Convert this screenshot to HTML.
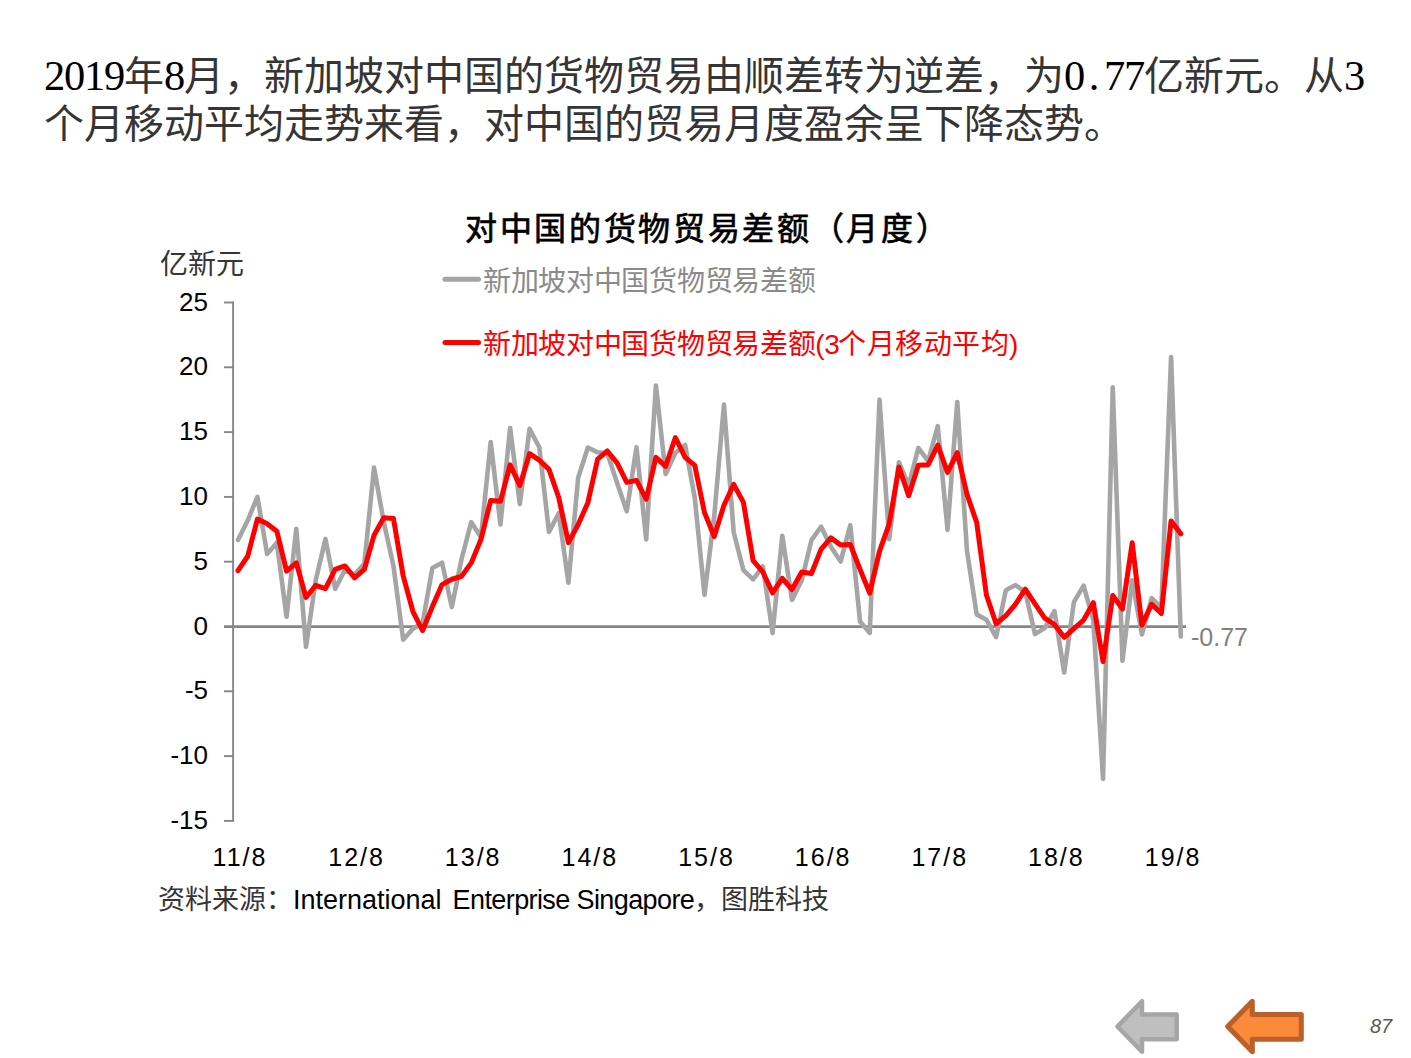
<!DOCTYPE html>
<html lang="zh-CN"><head><meta charset="utf-8"><title>87</title>
<style>
*{margin:0;padding:0}
html,body{width:1411px;height:1058px;background:#fff;overflow:hidden}
body{position:relative;font-family:"Liberation Sans",sans-serif;color:#000}
.t{position:absolute;white-space:nowrap;line-height:1}
i{font-style:normal;font-family:"Liberation Sans",sans-serif;display:inline-block;width:1em;text-align:center}
b{font-weight:inherit;display:inline-block;width:20px;font-size:42.5px;text-align:center}
#h1,#h2{left:44px;font-family:"Liberation Serif",serif;font-size:40px}
#h1{top:54.5px}
#h2{top:104px}
#ct{left:463.5px;top:212.5px;font-size:32px;-webkit-text-stroke:0.7px #000}
#ct i{width:34.7px}
#yl{left:160px;top:251px;font-size:28px}
#yl i{width:28px}
.lg{left:483px;font-size:28px}
.lg i{width:27.7px}
#lg1{top:267.5px;color:#8a8a8a}
#lg2{top:330.5px;color:#ff0000}
.yt{right:1203px;font-size:26px;text-align:right}
.xt{font-size:25px;width:100px;text-align:center;letter-spacing:2px}
#dl{left:1191px;top:625px;font-size:25px;color:#808080}
#src{left:158px;top:887px;font-size:27px}
#src i{width:27px}
#pn{left:1370px;top:1016px;font-size:20px;font-style:italic;color:#595959}
#h1 i,#h2 i,#yl i,#src i{color:#353535}
.tofu i{transform:scale(1.5,1.2);-webkit-text-stroke:0.005em currentColor}
.tofu #h1 i,.tofu #h2 i,.tofu #yl i,.tofu #src i{color:#000}
.tofu #ct i{-webkit-text-stroke:0.035em #000}
</style></head><body>
<svg width="1411" height="1058" style="position:absolute;left:0;top:0">
<g stroke="#868686" stroke-width="1.9" fill="none">
<line x1="233.1" y1="301.55" x2="233.1" y2="821.85"/>
<line x1="224" y1="302.50" x2="233.1" y2="302.50"/><line x1="224" y1="367.30" x2="233.1" y2="367.30"/><line x1="224" y1="432.10" x2="233.1" y2="432.10"/><line x1="224" y1="496.90" x2="233.1" y2="496.90"/><line x1="224" y1="561.70" x2="233.1" y2="561.70"/><line x1="224" y1="691.30" x2="233.1" y2="691.30"/><line x1="224" y1="756.10" x2="233.1" y2="756.10"/><line x1="224" y1="820.90" x2="233.1" y2="820.90"/>
</g>
<line x1="224" y1="626.5" x2="1186" y2="626.5" stroke="#868686" stroke-width="2.75"/>
<line x1="445" y1="279.3" x2="478.5" y2="279.3" stroke="#a5a5a5" stroke-width="5" stroke-linecap="round"/>
<line x1="445" y1="342.5" x2="478.5" y2="342.5" stroke="#ff0000" stroke-width="5" stroke-linecap="round"/>
<polyline points="237.96,539.91 247.68,520.53 257.40,496.78 267.12,553.90 276.84,542.79 286.56,616.64 296.28,528.91 306.00,646.78 315.72,580.23 325.44,538.93 335.16,588.83 344.88,570.07 354.60,574.50 364.32,563.76 374.04,467.58 383.76,522.03 393.48,566.12 403.20,639.73 412.92,628.76 422.64,623.09 432.36,568.00 442.08,562.65 451.80,607.12 461.52,559.29 471.24,522.16 480.96,537.31 490.68,441.96 500.40,524.53 510.12,428.02 519.84,504.08 529.56,428.90 539.28,447.28 549.00,531.89 558.72,513.22 568.44,582.73 578.16,477.78 587.88,447.50 597.60,452.33 607.32,453.25 617.04,482.79 626.76,511.23 636.48,447.20 646.20,539.46 655.92,385.51 665.64,473.95 675.36,453.03 685.08,444.93 694.80,498.22 704.52,594.83 714.24,516.25 723.96,404.61 733.68,532.29 743.40,570.06 753.12,579.35 762.84,566.47 772.56,632.93 782.28,535.77 792.00,599.93 801.72,580.35 811.44,540.20 821.16,526.67 830.88,546.78 840.60,561.61 850.32,525.13 860.04,621.55 869.76,632.89 879.48,399.66 889.20,539.32 898.92,462.21 908.64,485.61 918.36,447.90 928.08,461.05 937.80,426.15 947.52,529.88 957.24,401.98 966.96,550.88 976.68,614.38 986.40,619.72 996.12,637.06 1005.84,590.17 1015.56,585.07 1025.28,592.09 1035.00,634.11 1044.72,628.15 1054.44,611.21 1064.16,672.48 1073.88,602.11 1083.60,585.65 1093.32,620.45 1103.04,778.87 1112.76,387.32 1122.48,660.82 1132.20,580.28 1141.92,634.37 1151.64,598.07 1161.36,607.97 1171.08,356.94 1180.80,636.47" fill="none" stroke="#a5a5a5" stroke-width="4.6" stroke-linejoin="round" stroke-linecap="round"/>
<polyline points="237.96,570.64 247.68,556.26 257.40,519.07 267.12,523.74 276.84,531.15 286.56,571.11 296.28,562.78 306.00,597.44 315.72,585.31 325.44,588.64 335.16,569.33 344.88,565.95 354.60,577.81 364.32,569.45 374.04,535.29 383.76,517.79 393.48,518.58 403.20,575.96 412.92,611.53 422.64,630.52 432.36,606.62 442.08,584.57 451.80,579.25 461.52,576.34 471.24,562.85 480.96,539.58 490.68,500.48 500.40,501.27 510.12,464.84 519.84,485.55 529.56,453.67 539.28,460.09 549.00,469.36 558.72,497.47 568.44,542.62 578.16,524.58 587.88,502.67 597.60,459.20 607.32,451.02 617.04,462.79 626.76,482.42 636.48,480.40 646.20,499.30 655.92,457.38 665.64,466.30 675.36,437.50 685.08,457.31 694.80,465.39 704.52,512.66 714.24,536.43 723.96,505.22 733.68,484.38 743.40,502.32 753.12,560.57 762.84,571.96 772.56,592.92 782.28,578.39 792.00,589.54 801.72,572.02 811.44,573.49 821.16,549.08 830.88,537.88 840.60,545.02 850.32,544.50 860.04,569.42 869.76,593.19 879.48,551.37 889.20,523.95 898.92,467.07 908.64,495.71 918.36,465.24 928.08,464.85 937.80,445.03 947.52,472.37 957.24,452.67 966.96,494.26 976.68,522.42 986.40,594.99 996.12,623.73 1005.84,615.65 1015.56,604.11 1025.28,589.11 1035.00,603.76 1044.72,618.11 1054.44,624.49 1064.16,637.28 1073.88,628.60 1083.60,620.08 1093.32,602.73 1103.04,661.65 1112.76,595.54 1122.48,609.00 1132.20,542.80 1141.92,625.17 1151.64,604.23 1161.36,613.46 1171.08,520.99 1180.80,533.80" fill="none" stroke="#ff0000" stroke-width="5.0" stroke-linejoin="round" stroke-linecap="round"/>
<path d="M1117.5,1026.5 L1142,1001.25 L1142,1014.45 L1176.7,1014.45 L1176.7,1039.15 L1142,1039.15 L1142,1051.75 Z" fill="#bfbfbf" stroke="#a6a6a6" stroke-width="4.5" stroke-linejoin="round"/>
<path d="M1227.7,1026.5 L1252.3,1001.3 L1252.3,1014.5 L1301.3,1014.5 L1301.3,1039.2 L1252.3,1039.2 L1252.3,1051.7 Z" fill="#fb8a3a" stroke="#bb6028" stroke-width="5" stroke-linejoin="round"/>
</svg>
<div class="t" id="h1"><b>2</b><b>0</b><b>1</b><b>9</b><i>年</i><b>8</b><i>月</i><i>，</i><i>新</i><i>加</i><i>坡</i><i>对</i><i>中</i><i>国</i><i>的</i><i>货</i><i>物</i><i>贸</i><i>易</i><i>由</i><i>顺</i><i>差</i><i>转</i><i>为</i><i>逆</i><i>差</i><i>，</i><i>为</i><b>0</b><b>.</b><b>7</b><b>7</b><i>亿</i><i>新</i><i>元</i><i>。</i><i>从</i><b>3</b></div>
<div class="t" id="h2"><i>个</i><i>月</i><i>移</i><i>动</i><i>平</i><i>均</i><i>走</i><i>势</i><i>来</i><i>看</i><i>，</i><i>对</i><i>中</i><i>国</i><i>的</i><i>贸</i><i>易</i><i>月</i><i>度</i><i>盈</i><i>余</i><i>呈</i><i>下</i><i>降</i><i>态</i><i>势</i><i>。</i></div>
<div class="t" id="ct"><i>对</i><i>中</i><i>国</i><i>的</i><i>货</i><i>物</i><i>贸</i><i>易</i><i>差</i><i>额</i><i>（</i><i>月</i><i>度</i><i>）</i></div>
<div class="t" id="yl"><i>亿</i><i>新</i><i>元</i></div>
<div class="t lg" id="lg1"><i>新</i><i>加</i><i>坡</i><i>对</i><i>中</i><i>国</i><i>货</i><i>物</i><i>贸</i><i>易</i><i>差</i><i>额</i></div>
<div class="t lg" id="lg2"><i>新</i><i>加</i><i>坡</i><i>对</i><i>中</i><i>国</i><i>货</i><i>物</i><i>贸</i><i>易</i><i>差</i><i>额</i><span style="display:inline-block;width:9px">(</span><span style="display:inline-block;width:14px">3</span><i style="width:28.45px">个</i><i style="width:28.45px">月</i><i style="width:28.45px">移</i><i style="width:28.45px">动</i><i style="width:28.45px">平</i><i style="width:28.45px">均</i>)</div>
<div class="t yt" style="top:288.5px">25</div>
<div class="t yt" style="top:353.3px">20</div>
<div class="t yt" style="top:418.1px">15</div>
<div class="t yt" style="top:482.9px">10</div>
<div class="t yt" style="top:547.7px">5</div>
<div class="t yt" style="top:612.5px">0</div>
<div class="t yt" style="top:677.3px">-5</div>
<div class="t yt" style="top:742.1px">-10</div>
<div class="t yt" style="top:806.9px">-15</div>
<div class="t xt" style="left:190.0px;top:844.5px">11/8</div>
<div class="t xt" style="left:306.6px;top:844.5px">12/8</div>
<div class="t xt" style="left:423.2px;top:844.5px">13/8</div>
<div class="t xt" style="left:539.9px;top:844.5px">14/8</div>
<div class="t xt" style="left:656.5px;top:844.5px">15/8</div>
<div class="t xt" style="left:773.2px;top:844.5px">16/8</div>
<div class="t xt" style="left:889.8px;top:844.5px">17/8</div>
<div class="t xt" style="left:1006.4px;top:844.5px">18/8</div>
<div class="t xt" style="left:1123.1px;top:844.5px">19/8</div>
<div class="t" id="dl">-0.77</div>
<div class="t" id="src"><i>资</i><i>料</i><i>来</i><i>源</i><i>：</i><span style="letter-spacing:0px">International</span><span style="display:inline-block;width:11px"></span><span style="letter-spacing:-0.6px">Enterprise Singapore</span><i>，</i><i>图</i><i>胜</i><i>科</i><i>技</i></div>
<div class="t" id="pn">87</div>
<script>(function(){var s=document.createElement('span');s.style.cssText='position:absolute;left:0;top:0;visibility:hidden;white-space:nowrap;font:100px "Liberation Sans",sans-serif';s.textContent='中国对易';document.body.appendChild(s);var w=s.getBoundingClientRect().width;document.body.removeChild(s);if(w<360)document.documentElement.className+=' tofu';})();</script>
</body></html>
